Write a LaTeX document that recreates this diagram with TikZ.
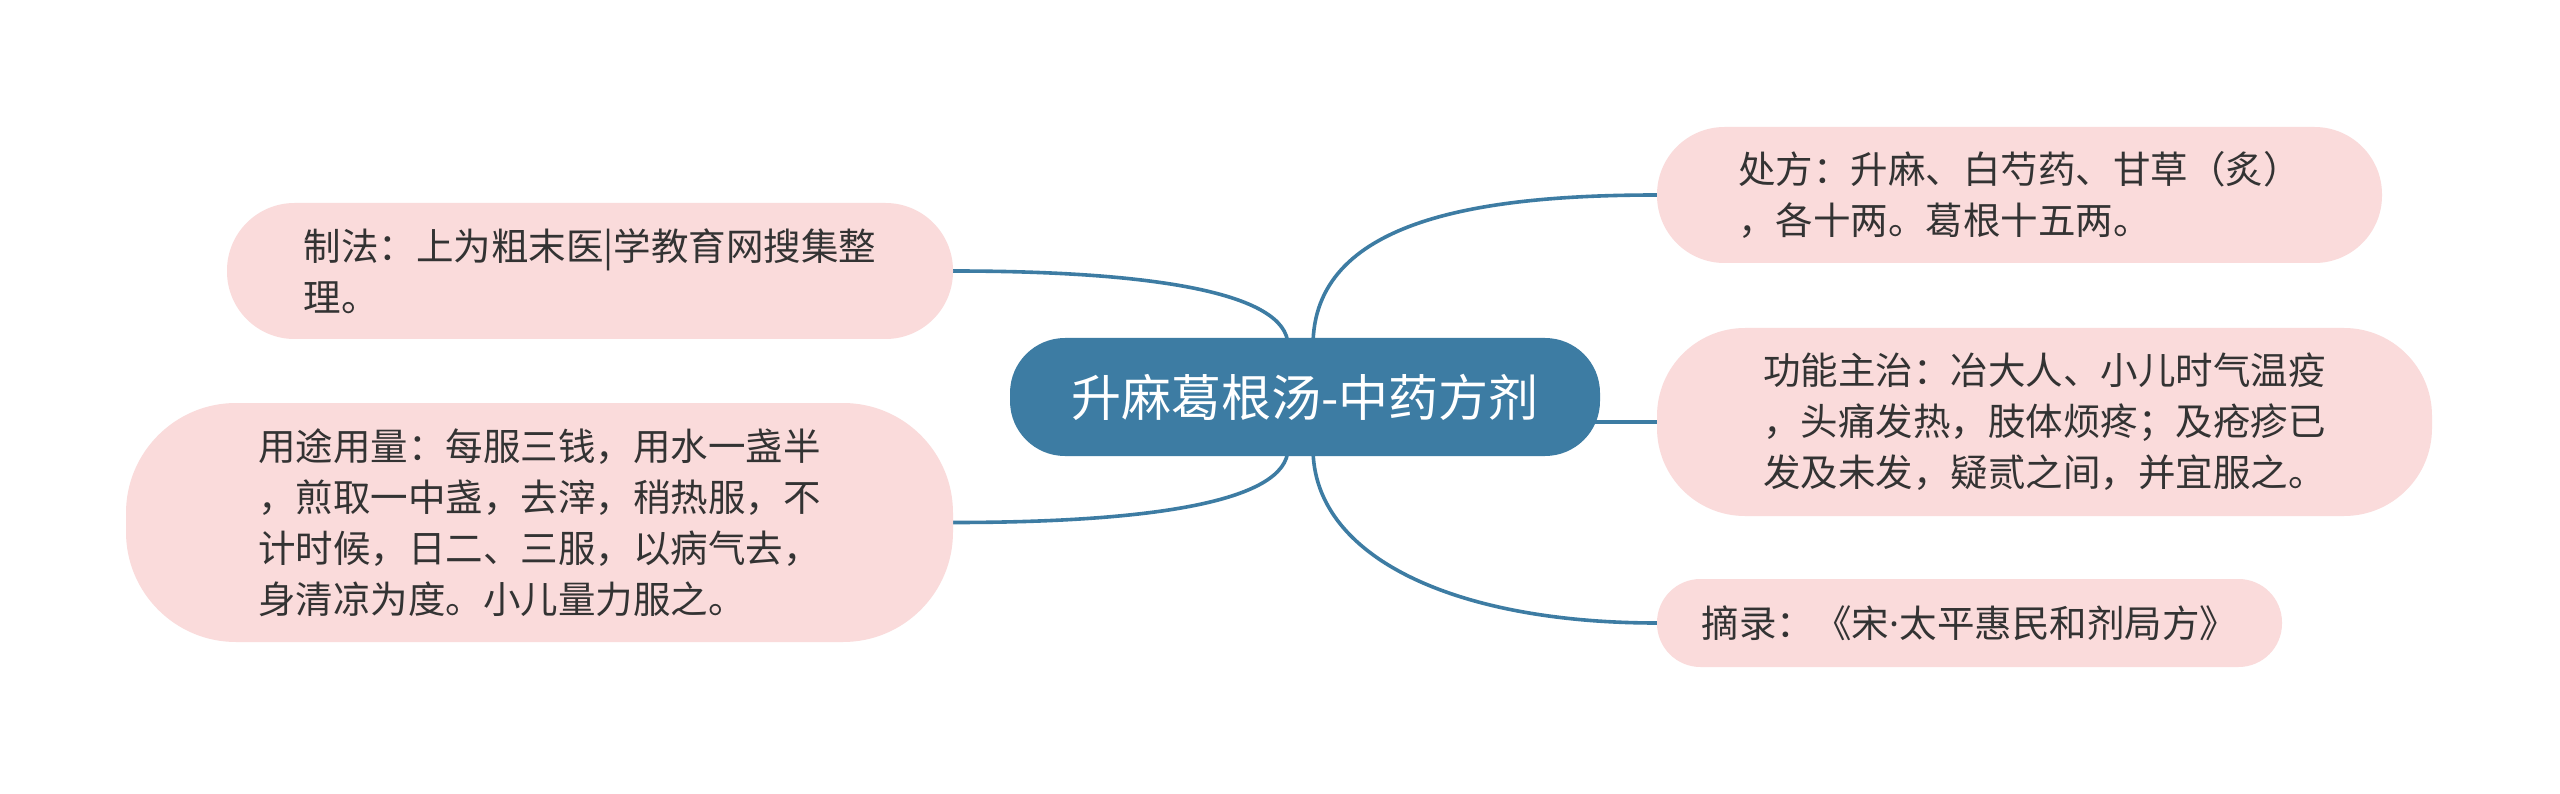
\documentclass[tikz,border=0pt]{standalone}
\usepackage{fontspec}
\setmainfont{Noto Sans CJK SC}
\newfontfamily\latinfont{Noto Sans}
\usetikzlibrary{positioning,backgrounds}
\definecolor{rootblue}{HTML}{3D7CA3}
\definecolor{leafpink}{HTML}{FADBDB}
\definecolor{leaftext}{HTML}{333333}

\begin{document}
\begin{tikzpicture}[x=1pt,y=-1pt,
        leaf/.style={fill=leafpink,text=leaftext,align=left,inner sep=0pt,font=\fontsize{37.5}{51}\selectfont},
        root/.style={fill=rootblue,text=white,rounded corners=55pt,minimum width=590pt,minimum height=118pt,inner sep=0pt,font=\fontsize{50}{56}\selectfont},
        link/.style={draw=rootblue,line width=3.6pt}]
        \node[root] (root) at (1305,397) {升麻葛根汤-中药方剂};
        \node[leaf,minimum width=726pt,minimum height=136pt,rounded corners=67.5pt] (zhifa) at (590,271)
            {制法：上为粗末医|学教育网搜集整\\理。};
        \node[leaf,minimum width=827pt,minimum height=239pt,rounded corners=110pt] (yongtu) at (539.5,522.5)
            {用途用量：每服三钱，用水一盏半\\，煎取一中盏，去滓，稍热服，不\\计时候，日二、三服，以病气去，\\身清凉为度。小儿量力服之。};
        \node[leaf,minimum width=725pt,minimum height=136pt,rounded corners=67.5pt] (chufang) at (2019.5,195)
            {处方：升麻、白芍药、甘草（炙）\\，各十两。葛根十五两。};
        \node[leaf,minimum width=775pt,minimum height=188pt,rounded corners=88pt] (gongneng) at (2044.5,422)
            {功能主治：冶大人、小儿时气温疫\\，头痛发热，肢体烦疼；及疮疹已\\发及未发，疑贰之间，并宜服之。};
        \node[leaf,minimum width=625pt,minimum height=88pt,rounded corners=43.5pt] (zhailu) at (1969.5,623)
            {摘录：《宋{\latinfont ·}太平惠民和剂局方》};
        \begin{scope}[on background layer]
            \path[fill=white,use as bounding box] (0,0) rectangle (2560,794);
            \draw[link] (zhifa.east)
                .. controls +(190,0) and +(0,-55) .. ([xshift=-17pt,yshift=-8pt]root.north);
            \draw[link] (yongtu.east)
                .. controls +(190,0) and +(0,55) .. ([xshift=-17pt,yshift=8pt]root.south);
            \draw[link] ([xshift=8pt,yshift=-8pt]root.north)
                .. controls +(0,-125) and +(-180,0) .. (chufang.west);
            \draw[link] (root.center |- gongneng.west) -- (gongneng.west);
            \draw[link] ([xshift=8pt,yshift=8pt]root.south)
                .. controls +(0,110) and +(-200,0) .. (zhailu.west);
        \end{scope}
    \end{tikzpicture}
\end{document}
